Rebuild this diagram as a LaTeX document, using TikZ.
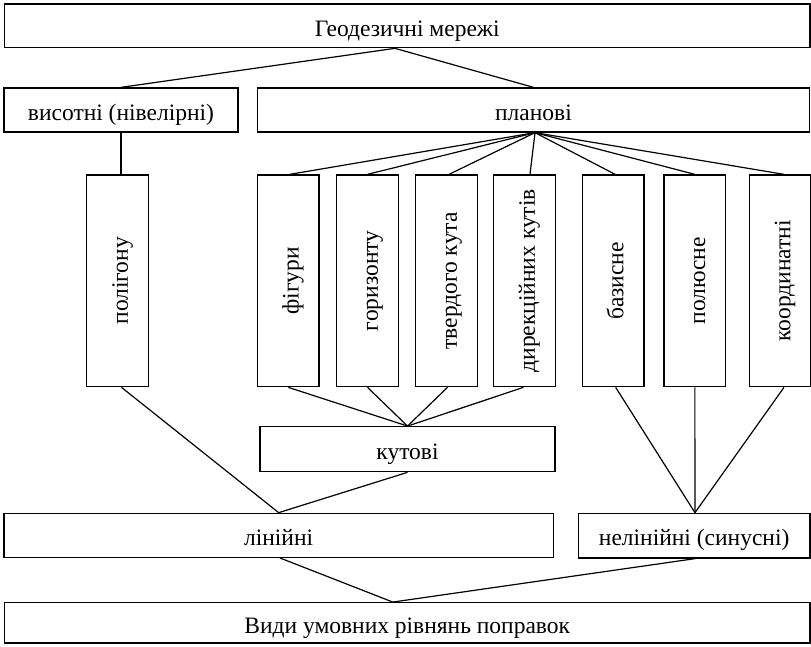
\documentclass[tikz,border=0pt]{standalone}
\usepackage{fontspec}
\setmainfont{Liberation Serif}
\begin{document}
\begin{tikzpicture}[x=1pt,y=-1pt,
  box/.style={draw, line width=1.3pt, inner sep=0pt, text height=20.6pt, text depth=0pt,
    font=\fontsize{23.5}{28}\selectfont},
  vbox/.style={box, rotate=90, minimum width=211.7pt, minimum height=61.6pt},
  link/.style={line width=1.2pt}]
\useasboundingbox (0,0) rectangle (811,646);
% horizontal boxes
\node[box, minimum width=805.5pt, minimum height=43.7pt] (top) at (407.25,25.85) {Геодезичні мережі};
\node[box, minimum width=234pt, minimum height=44pt] (vys) at (121,110) {висотні (нівелірні)};
\node[box, minimum width=552pt, minimum height=44pt] (plan) at (533.5,110) {планові};
\node[box, minimum width=295pt, minimum height=45pt] (kut) at (407.5,449.2) {кутові};
\node[box, minimum width=549.3pt, minimum height=44pt] (lin) at (278.65,535.3) {лінійні};
\node[box, minimum width=231.7pt, minimum height=44.7pt] (nelin) at (694.15,535.65) {нелінійні (синусні)};
\node[box, minimum width=805.5pt, minimum height=40.3pt] (bot) at (407.25,622.85) {Види умовних рівнянь поправок};
% vertical boxes
\node[vbox] (pol) at (117.5,280.85) {полігону};
\node[vbox] (fig) at (288.3,280.85) {фігури};
\node[vbox] (hor) at (367.5,280.85) {горизонту};
\node[vbox] (tv) at (446.5,280.85) {твердого кута};
\node[vbox] (dyr) at (524.5,280.85) {дирекційних кутів};
\node[vbox] (baz) at (613.15,280.85) {базисне};
\node[vbox] (plu) at (694.85,280.85) {полюсне};
\node[vbox] (koo) at (780,280.85) {координатні};
% connectors
\draw[link] (vys.north) -- ([xshift=-12.25pt]top.south) -- (plan.north);
\draw[link] (vys.south) -- (vys.south |- pol.east);
\draw[link] ([xshift=1.5pt]fig.east) -- ([xshift=1.5pt]plan.south);
\draw[link] (hor.east) -- ([xshift=1.5pt]plan.south);
\draw[link] ([xshift=2.5pt]tv.east) -- ([xshift=1.5pt]plan.south);
\draw[link] ([xshift=5.5pt]dyr.east) -- ([xshift=1.5pt]plan.south);
\draw[link] ([xshift=2pt]baz.east) -- ([xshift=1.5pt]plan.south);
\draw[link] (plu.east) -- ([xshift=1.5pt]plan.south);
\draw[link] ([xshift=4pt]koo.east) -- ([xshift=1.5pt]plan.south);
\draw[link] (fig.west) -- (kut.north);
\draw[link] (hor.west) -- (kut.north);
\draw[link] ([xshift=1pt]tv.west) -- (kut.north);
\draw[link] ([xshift=-1pt]dyr.west) -- (kut.north);
\draw[link] ([xshift=4pt]pol.west) -- (lin.north);
\draw[link] (kut.south) -- (lin.north);
\draw[link] ([xshift=2.5pt]baz.west) -- ([xshift=0.8pt]nelin.north);
\draw[link] (plu.west) -- ([xshift=0.8pt]nelin.north);
\draw[link] ([xshift=4pt]koo.west) -- ([xshift=0.8pt]nelin.north);
\draw[link] ([xshift=1.3pt]lin.south) -- ([xshift=-14.5pt]bot.north);
\draw[link] ([xshift=0.8pt]nelin.south) -- ([xshift=-14.5pt]bot.north);
\end{tikzpicture}
\end{document}
